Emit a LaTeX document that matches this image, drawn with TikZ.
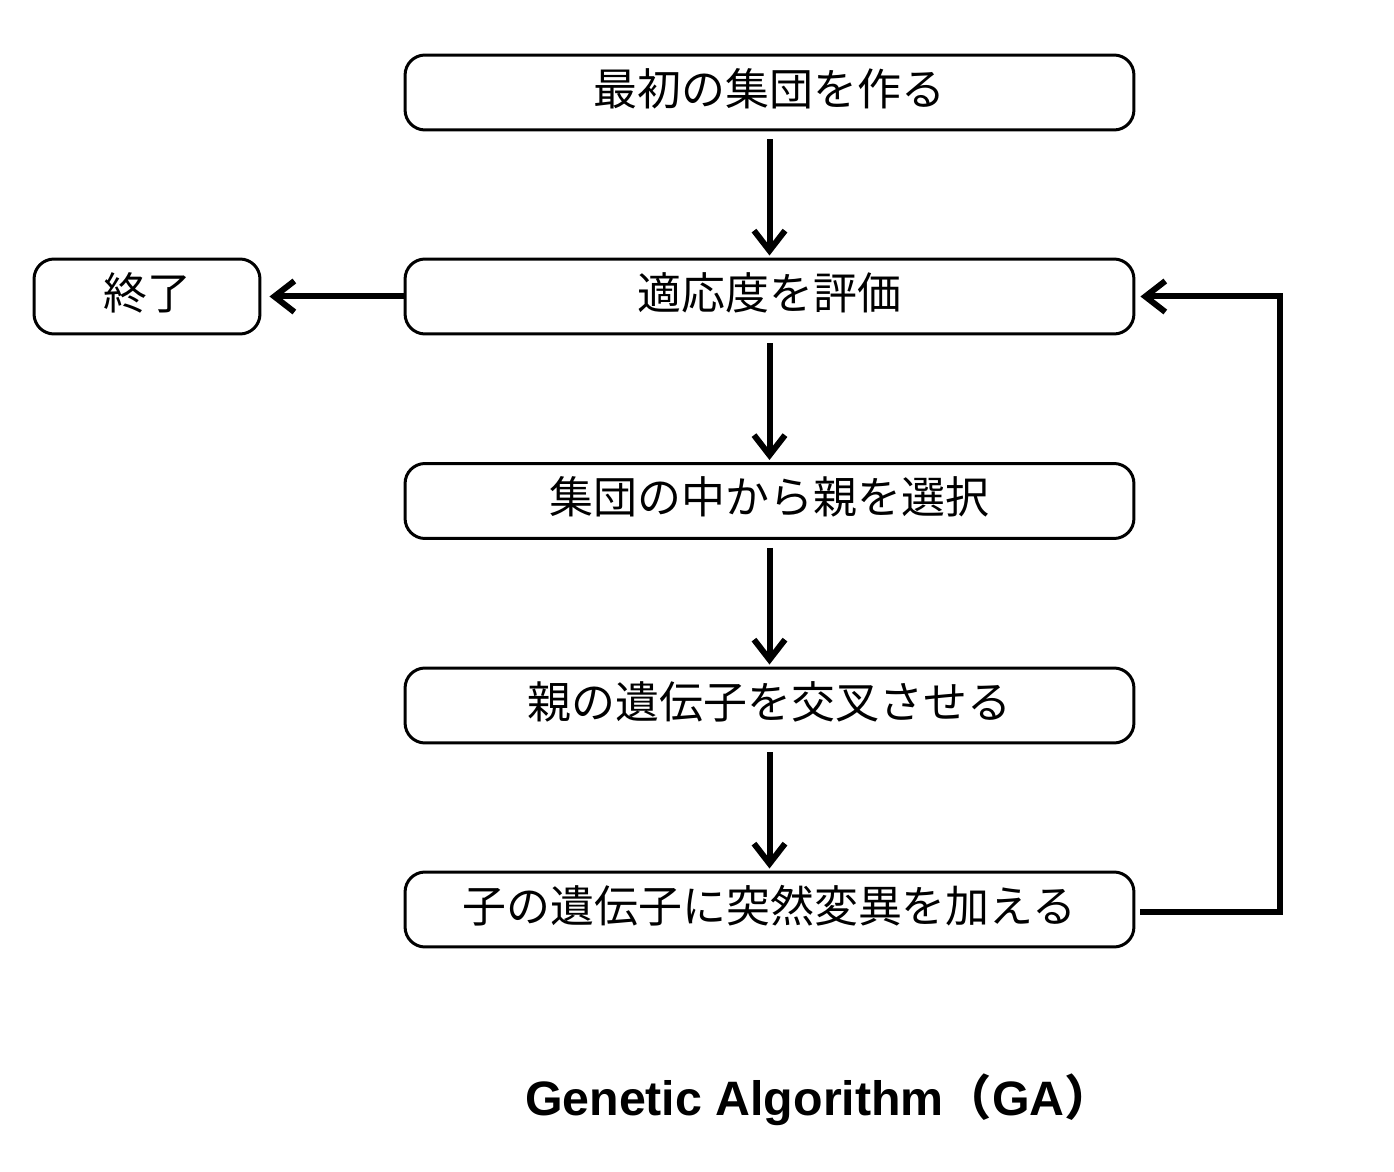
\documentclass[tikz,border=0pt]{standalone}
\usepackage{fontspec}
\setmainfont{Liberation Sans}
\newfontfamily\jpfont{Noto Sans CJK JP}
\usetikzlibrary{arrows.meta}
\tikzset{box/.style={draw,line width=0.06cm,rounded corners=0.4cm,minimum height=1.5cm,
    minimum width=14.58cm,inner sep=0pt,text height=0.7cm,text depth=0.19cm,
    font=\jpfont\fontsize{25}{30}\selectfont},
  arr/.style={line width=0.12cm,-{Straight Barb[length=0.4cm,width=0.62cm]}}}
\begin{document}
\begin{tikzpicture}[x=0.02cm,y=-0.02cm]
\useasboundingbox (0,0) rectangle (1394,1172);
\draw 	(769.5,92.5) node[box](s1){最初の集団を作る}   (769.5,296.5) node[box](s2){適応度を評価}
  		(769.5,501) node[box](s3){集団の中から親を選択}   (769.5,705.5) node[box](s4){親の遺伝子を交叉させる}
		(769.5,909.5) node[box](s5){子の遺伝子に突然変異を加える}
		(147,296.5) node[box,minimum width=4.52cm](t1){終了};
\path[-]
    (s1) edge[arr,shorten <=0.16cm,shorten >=0.04cm] (s2)
    (s2) edge[arr,shorten <=0.16cm,shorten >=0.04cm] (s3)
    (s3) edge[arr,shorten <=0.16cm,shorten >=0.04cm] (s4)
    (s4) edge[arr,shorten <=0.16cm,shorten >=0.04cm] (s5)
    (s2) edge[arr,shorten >=0.16cm] (t1);
% loop back
\coordinate (c0) at (1134,912);
\coordinate (c1) at (1280,296.5);
\draw[arr,shorten <=0.12cm,shorten >=0.1cm] (c0) -| (c1) -- (s2.east);

\node[font=\bfseries\fontsize{27.5}{32}\selectfont] (g1) at (819,1100)
    {Genetic Algorithm{\jpfont\bfseries （}GA{\jpfont\bfseries ）}};
\end{tikzpicture}
\end{document}
